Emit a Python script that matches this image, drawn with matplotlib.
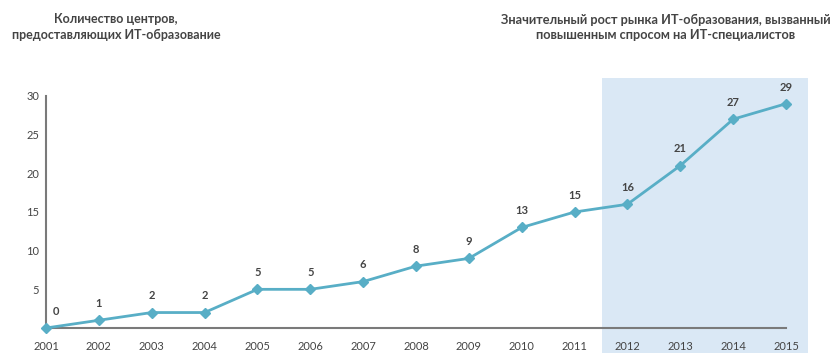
import matplotlib.pyplot as plt
from matplotlib.patches import Rectangle

years = [2001, 2002, 2003, 2004, 2005, 2006, 2007, 2008,
         2009, 2010, 2011, 2012, 2013, 2014, 2015]
centers = [0, 1, 2, 2, 5, 5, 6, 8, 9, 13, 15, 16, 21, 27, 29]
yticks = [5, 10, 15, 20, 25, 30]

title_left = "Количество центров,\nпредоставляющих ИТ-образование"
title_right = ("Значительный рост рынка ИТ-образования, вызванный\n"
               "повышенным спросом на ИТ-специалистов")

plt.rcParams['font.family'] = ['Lato', 'DejaVu Sans']

W, H = 838, 353
fig = plt.figure(figsize=(W / 100, H / 100), dpi=100)
ax = fig.add_axes([46 / W, 1 - 328 / H, (786 - 46) / W, (328 - 96) / H])

line_color = '#58aec6'
axis_color = '#7a7a7a'
text_color = '#444444'

# highlighted period 2012-2015
ax.add_patch(Rectangle((2011.52, -3.3), 2015.42 - 2011.52, 35.6,
                       facecolor='#dae8f5', edgecolor='none',
                       clip_on=False, zorder=0))

ax.plot(years, centers, color=line_color, lw=2, marker='D', ms=5,
        clip_on=False, zorder=3)

for x, v in zip(years, centers):
    dx = 0.18 if x == years[0] else 0
    ax.annotate(str(v), (x + dx, v), xytext=(0, 8), textcoords='offset points',
                ha='center', va='bottom', fontsize=8, fontweight='bold',
                color=text_color)

ax.set_xlim(years[0], years[-1])
ax.set_ylim(0, 30)
ax.set_xticks(years)
ax.set_yticks(yticks)
ax.tick_params(length=0, labelsize=8, labelcolor=text_color)
ax.tick_params(axis='x', pad=9)
ax.tick_params(axis='y', pad=5)
for s in ['top', 'right']:
    ax.spines[s].set_visible(False)
for s in ['left', 'bottom']:
    ax.spines[s].set_color(axis_color)
    ax.spines[s].set_linewidth(1.5)
ax.patch.set_alpha(0)

fig.text(116 / W, 1 - 27 / H, title_left, ha='center', va='center',
         fontsize=9, fontweight='bold', color=text_color, linespacing=1.3)
fig.text(666 / W, 1 - 27 / H, title_right, ha='center', va='center',
         fontsize=9.2, fontweight='bold', color=text_color, linespacing=1.3)

fig.savefig('out.png', dpi=100)
